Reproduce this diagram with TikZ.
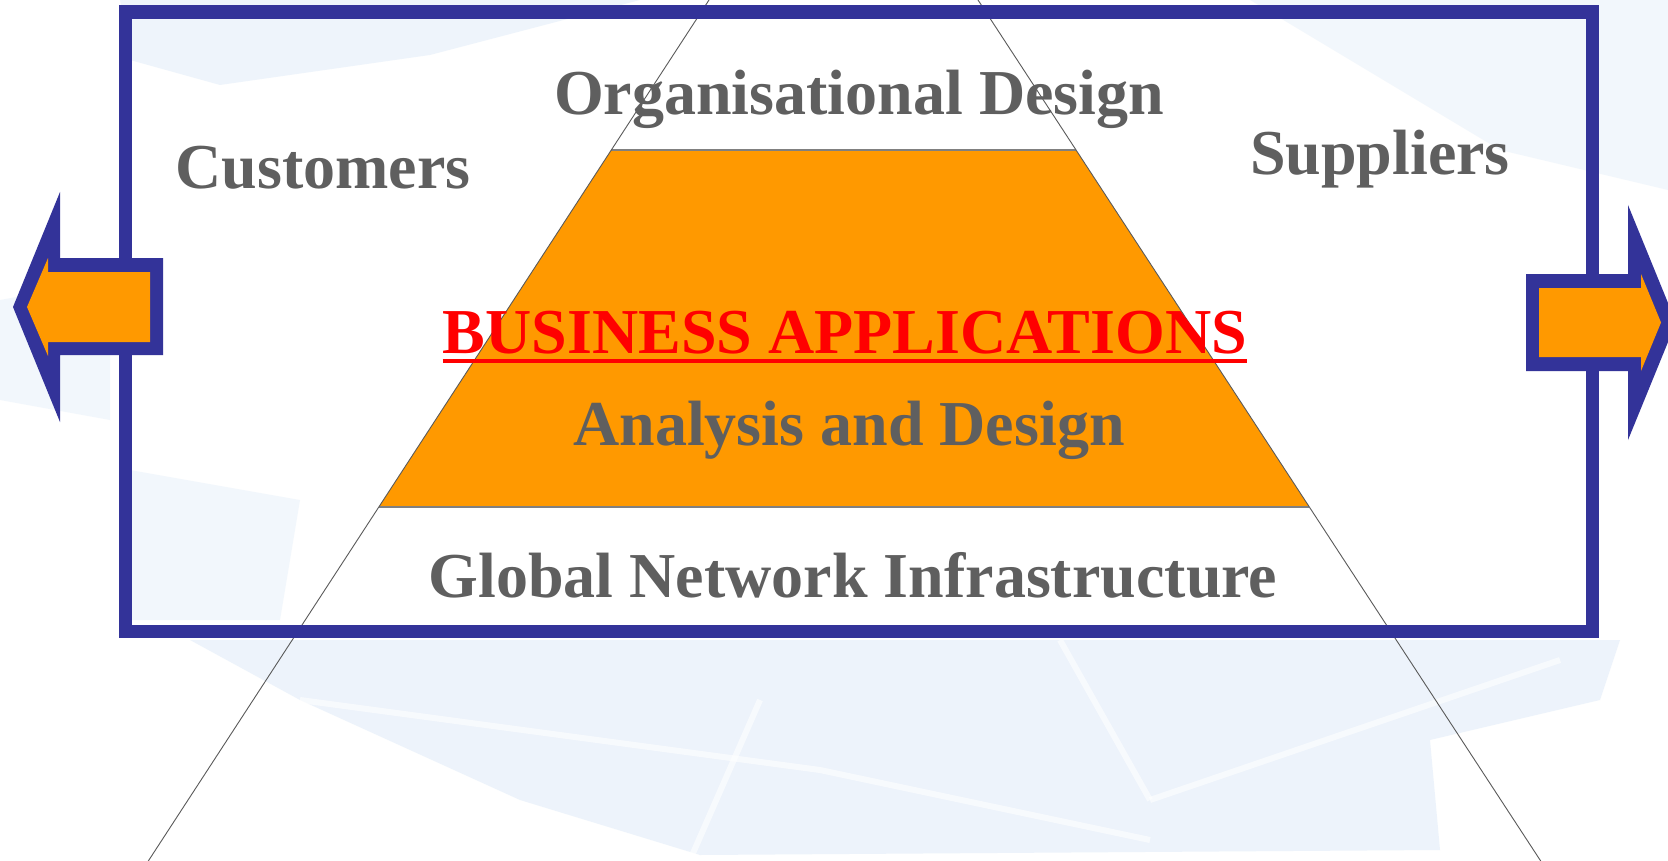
\documentclass[tikz,border=0pt]{standalone}
\usepackage{fontspec}
\setmainfont{Liberation Serif}
\definecolor{frameblue}{HTML}{333399}
\definecolor{boxorange}{HTML}{FF9900}
\definecolor{txtgray}{HTML}{5F5F5F}
\definecolor{bgblue}{HTML}{E4EEF9}
\definecolor{pyrgray}{HTML}{5A5A5A}
\begin{document}
\begin{tikzpicture}[x=1pt,y=-1pt,
  lbl/.style={font=\fontsize{64}{70}\selectfont\bfseries, text=txtgray, anchor=base, inner sep=0pt},
  pyrline/.style={draw=pyrgray, line width=0.9pt},
  bandedge/.style={draw=gray, line width=2pt},
  arrowout/.style={fill=frameblue},
  arrowin/.style={fill=boxorange},
  bgpatch/.style={fill=bgblue},
  streak/.style={draw=white, line width=6pt, opacity=0.6}]
\useasboundingbox (0,0) rectangle (1668,861);
\clip (0,0) rectangle (1668,861);
\fill[white] (0,0) rectangle (1668,861);
% faint background pattern
\fill[bgpatch, opacity=0.6] (120,0) -- (640,0) -- (430,55) -- (220,85) -- (130,60) -- cycle;
\fill[bgpatch, opacity=0.45] (0,300) -- (110,280) -- (110,420) -- (0,400) -- cycle;
\fill[bgpatch, opacity=0.45] (1250,0) -- (1668,0) -- (1668,190) -- (1500,150) -- (1350,60) -- cycle;
\fill[bgpatch, opacity=0.65] (190,640) -- (1620,640) -- (1600,700) -- (1430,740) -- (1440,850) -- (700,855) -- (520,800) -- (300,700) -- cycle;
\fill[bgpatch, opacity=0.45] (130,470) -- (300,500) -- (280,620) -- (130,620) -- cycle;
\draw[streak] (300,700) -- (820,770) -- (1150,840);
\draw[streak] (760,700) -- (690,860);
\draw[streak] (1060,640) -- (1150,800);
\draw[streak] (1150,800) -- (1560,660);
% pyramid lines
\coordinate (ltop) at (709,0);
\coordinate (rtop) at (978,0);
\coordinate (lbot) at (148.3,861);
\coordinate (rbot) at (1540.7,861);
\coordinate (b1) at (611.3,150);
\coordinate (b2) at (1076,150);
\coordinate (b3) at (1309.3,507);
\coordinate (b4) at (378.8,507);
\fill[boxorange] (b1) -- (b2) -- (b3) -- (b4) -- cycle;
\draw[bandedge] (b1) -- (b2);
\draw[bandedge] (b4) -- (b3);
\draw[pyrline] (ltop) -- (lbot);
\draw[pyrline] (rtop) -- (rbot);
% frame
\draw[frameblue, line width=13.5pt, line join=miter] (125.5,12) rectangle (1592.5,631.5);
% left arrow
\path[arrowout] (13,307) -- (60,192) -- (60,258) -- (163,258) -- (163,355) -- (60,355) -- (60,422) -- cycle;
\path[arrowin] (27,307) -- (48,258) -- (48,272) -- (150,272) -- (150,342) -- (48,342) -- (48,356) -- cycle;
% right arrow
\path[arrowout] (1676,322.5) -- (1628,205) -- (1628,274) -- (1526,274) -- (1526,371) -- (1628,371) -- (1628,440) -- cycle;
\path[arrowin] (1661,322.5) -- (1641,274) -- (1641,288) -- (1539,288) -- (1539,357) -- (1641,357) -- (1641,371) -- cycle;
% labels
\node[lbl] (cust) at (323,189) {Customers};
\node[lbl] (supp) at (1380,175) {Suppliers};
\node[lbl] (org) at (859,115) {Organisational Design};
\node[lbl, text=red] (biz) at (845,353) {BUSINESS APPLICATIONS};
\draw[red, line width=4pt] ([yshift=-8pt]biz.base west) -- ([yshift=-8pt]biz.base east);
\node[lbl] (anal) at (849,445) {Analysis and Design};
\node[lbl] (glob) at (853,597) {Global Network Infrastructure};
\end{tikzpicture}
\end{document}
